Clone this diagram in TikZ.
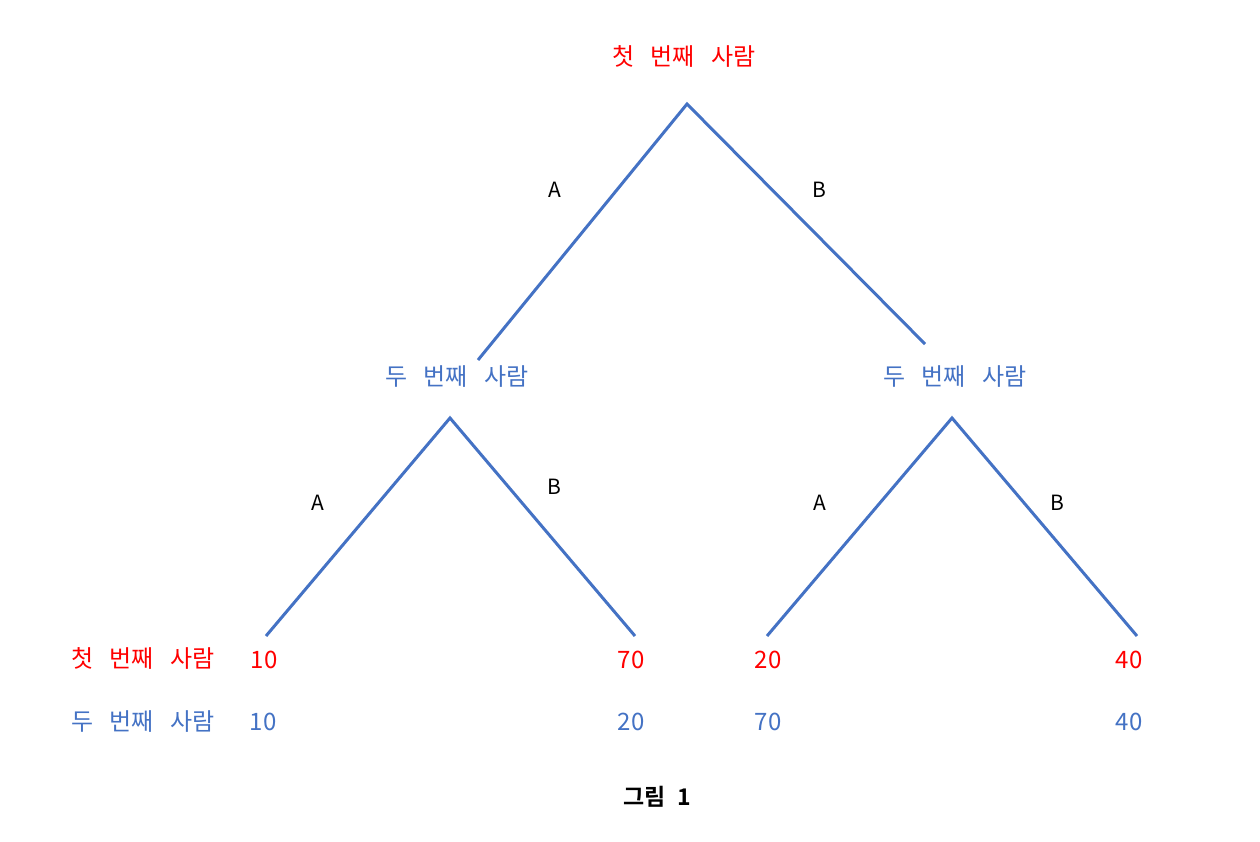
\documentclass[tikz,border=0pt]{standalone}
\usepackage{fontspec}
\setmainfont{Noto Sans CJK KR}
\newfontfamily\kr{Noto Sans CJK KR}
\newfontfamily\krb{Noto Sans CJK KR Bold}
\definecolor{tred}{RGB}{255,0,0}
\definecolor{tblue}{RGB}{68,114,196}
\newcommand{\gap}{\hspace{16pt}}
\begin{document}
\begin{tikzpicture}[x=1pt,y=-1pt,
  edge/.style={draw=tblue,line width=3pt},
  redtxt/.style={text=tred,font=\kr\fontsize{24}{28}\selectfont,inner sep=0pt},
  bluetxt/.style={text=tblue,font=\kr\fontsize{24}{28}\selectfont,inner sep=0pt},
  lbl/.style={text=black,font=\kr\fontsize{21}{24}\selectfont,inner sep=0pt}]
\useasboundingbox (0,0) rectangle (1260,842);
\coordinate (r) at (687,104);
\coordinate (l1) at (478,360);
\coordinate (r1) at (925,344);
\coordinate (la) at (450,418);
\coordinate (ra) at (952,418);
\coordinate (lla) at (266,636);
\coordinate (llb) at (635,636);
\coordinate (rla) at (767,636);
\coordinate (rlb) at (1137,636);
\draw[edge] (l1) -- (r) -- (r1);
\draw[edge] (lla) -- (la) -- (llb);
\draw[edge] (rla) -- (ra) -- (rlb);
% titles
\node[redtxt] (t0) at (684,56) {첫\gap 번째\gap 사람};
\node[bluetxt] (t1) at (457,377) {두\gap 번째\gap 사람};
\node[bluetxt] (t2) at (955,377) {두\gap 번째\gap 사람};
% edge labels
\node[lbl] (ea) at (555,190) {A};
\node[lbl] (eb) at (819,190) {B};
\node[lbl] (ea1) at (318,503) {A};
\node[lbl] (eb1) at (554,487) {B};
\node[lbl] (ea2) at (820,503) {A};
\node[lbl] (eb2) at (1057,503) {B};
% payoffs
\node[redtxt] (p1) at (143,658) {첫\gap 번째\gap 사람};
\node[bluetxt] (p2) at (143,722) {두\gap 번째\gap 사람};
\node[redtxt] (a1) at (264,660) {10};
\node[redtxt] (a2) at (631,660) {70};
\node[redtxt] (a3) at (768,660) {20};
\node[redtxt] (a4) at (1129,660) {40};
\node[bluetxt] (b1) at (263,722) {10};
\node[bluetxt] (b2) at (631,722) {20};
\node[bluetxt] (b3) at (768,722) {70};
\node[bluetxt] (b4) at (1129,722) {40};
% caption
\node[text=black,font=\krb\fontsize{23}{26}\selectfont,inner sep=0pt] (cap) at (657,797) {그림\hspace{12pt}1};
\end{tikzpicture}
\end{document}
